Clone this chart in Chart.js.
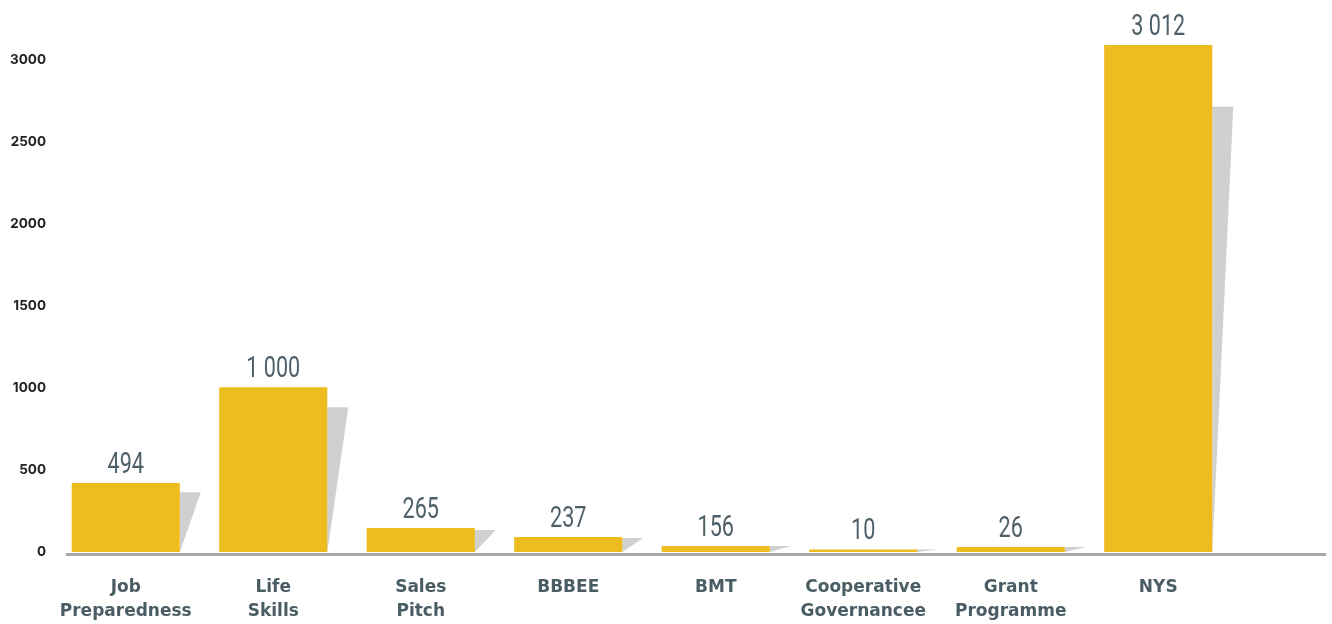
<!DOCTYPE html>
<head>
    <meta charset="utf-8">
    <style>
        body { margin: 0; background: #ffffff; }
        #wrap { width: 1332px; height: 624px; }
    </style>
</head>

<body>
    <div id="wrap">
        <canvas id="trainingChart" width="1332" height="624"></canvas>
    </div>
</body>

<script src="https://cdn.jsdelivr.net/npm/chart.js"></script>

<script>

// categories (two lines each)
var categories = [
    ['Job', 'Preparedness'],
    ['Life', 'Skills'],
    ['Sales', 'Pitch'],
    ['BBBEE'],
    ['BMT'],
    ['Cooperative', 'Governancee'],
    ['Grant', 'Programme'],
    ['NYS']
]

// bar heights as drawn in the picture
var barValues = [420, 1004, 146, 91, 37, 16, 30, 3092]

// height of the grey shadow behind each bar
var shadowValues = [365, 883, 134, 85, 37, 16, 30, 2715]

// the numbers printed above the bars
var valueLabels = ['494', '1 000', '265', '237', '156', '10', '26', '3 012']

// y axis ticks
var yTicks = [0, 500, 1000, 1500, 2000, 2500, 3000]

var barColor = '#EDBC1E'
var shadowColor = '#D0D0D0'
var axisColor = '#A9A9AC'

// grey slanted shadow to the right of each bar + baseline + value labels
var shadowPlugin = {
    id: 'shadowPlugin',
    beforeDatasetsDraw: function(chart) {
        var ctx = chart.ctx
        var yScale = chart.scales.y
        var meta = chart.getDatasetMeta(0)
        var base = yScale.getPixelForValue(0)
        ctx.save()
        ctx.fillStyle = shadowColor
        meta.data.forEach(function(bar, i) {
            var right = bar.x + bar.width / 2
            var top = yScale.getPixelForValue(shadowValues[i])
            ctx.beginPath()
            ctx.moveTo(right, top)
            ctx.lineTo(right + 21, top)
            ctx.lineTo(right, base)
            ctx.closePath()
            ctx.fill()
        })
        // baseline
        ctx.fillStyle = axisColor
        ctx.fillRect(chart.chartArea.left + 14, base + 1, chart.width - chart.chartArea.left - 20, 3)
        ctx.restore()
    },
    afterDatasetsDraw: function(chart) {
        var ctx = chart.ctx
        var meta = chart.getDatasetMeta(0)
        meta.data.forEach(function(bar, i) {
            ctx.save()
            ctx.translate(bar.x, bar.y - 10)
            ctx.scale(0.72, 1)
            ctx.font = '400 30px Roboto'
            ctx.textAlign = 'center'
            ctx.textBaseline = 'alphabetic'
            ctx.fillStyle = '#4E5F68'
            ctx.fillText(valueLabels[i], 0, 0)
            ctx.restore()
        })
    }
}

var ctx = document.getElementById('trainingChart').getContext('2d')

var myBarChart = new Chart(ctx, {
    type: 'bar',
    data: {
        labels: categories,
        datasets: [{
            label: 'Trained',
            data: barValues,
            backgroundColor: barColor,
            borderWidth: 0,
            categoryPercentage: 1,
            barPercentage: 0.733
        }]
    },
    options: {
        responsive: false,
        maintainAspectRatio: false,
        animation: false,
        layout: {
            padding: { left: 0, right: 100, top: 9, bottom: 0 }
        },
        plugins: {
            legend: { display: false },
            tooltip: { enabled: false }
        },
        scales: {
            x: {
                grid: { display: false, drawTicks: false },
                border: { display: false },
                ticks: {
                    color: '#4A5C64',
                    font: { family: 'DejaVu Sans', size: 17, weight: 'bold', lineHeight: 1.41 },
                    padding: 24,
                    maxRotation: 0,
                    autoSkip: false
                },
                afterFit: function(scale) { scale.height = 72 }
            },
            y: {
                min: 0,
                max: 3280,
                grid: { display: false, drawTicks: false },
                border: { display: false },
                afterBuildTicks: function(scale) {
                    scale.ticks = yTicks.map(function(v) { return { value: v } })
                },
                ticks: {
                    color: '#222222',
                    font: { family: 'Inter', size: 13.5, weight: 'bold' },
                    padding: 6,
                    callback: function(v) { return String(v) }
                },
                afterFit: function(scale) { scale.width = 52 }
            }
        }
    },
    plugins: [shadowPlugin]
})

</script>
</html>
